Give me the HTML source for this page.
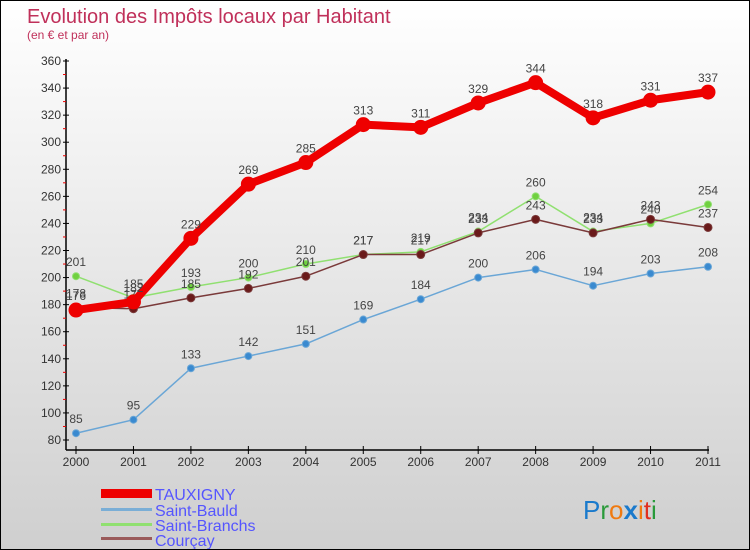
<!DOCTYPE html>
<html><head><meta charset="utf-8"><style>
body{margin:0}
#c{width:748px;height:548px;border:1px solid #000;background:linear-gradient(#fff,#cfcfcf);position:relative;font-family:"Liberation Sans",sans-serif;overflow:hidden}
</style></head><body>
<div id="c">
<svg id="s" width="748" height="548" style="position:absolute;left:0;top:0">
<text x="26" y="22" font-size="20" fill="#c0305a">Evolution des Impôts locaux par Habitant</text>
<text x="26" y="38" font-size="12" fill="#c0305a">(en € et par an)</text>
<g id="axes"></g><g id="series"></g>
<g>
<rect x="100" y="488" width="51" height="9" fill="#e00"/>
<text x="154" y="499" font-size="16" fill="#55f">TAUXIGNY</text>
<rect x="100" y="507" width="51" height="3" fill="#7aaed6"/>
<text x="154" y="515" font-size="16" fill="#55f">Saint-Bauld</text>
<rect x="100" y="522" width="51" height="3" fill="#90e070"/>
<text x="154" y="530" font-size="16" fill="#55f">Saint-Branchs</text>
<rect x="100" y="536" width="51" height="3" fill="#9a5a5a"/>
<text x="154" y="545" font-size="16" fill="#55f">Courçay</text>
</g>
<text x="582" y="518" font-size="26"><tspan fill="#1a7acc">P</tspan><tspan fill="#2a9a3a">r</tspan><tspan fill="#f07a10">o</tspan><tspan fill="#1a7acc" font-weight="bold">x</tspan><tspan fill="#f07a10">i</tspan><tspan fill="#e03020">t</tspan><tspan fill="#2a9a3a">i</tspan></text>
</svg>
</div>
<script>
const years=[2000,2001,2002,2003,2004,2005,2006,2007,2008,2009,2010,2011];
const tauxigny=[176,182,229,269,285,313,311,329,344,318,331,337];
const saintBauld=[85,95,133,142,151,169,184,200,206,194,203,208];
const saintBranchs=[201,185,193,200,210,217,219,234,260,234,240,254];
const courcay=[178,177,185,192,201,217,217,233,243,233,243,237];
const yTicks=[80,100,120,140,160,180,200,220,240,260,280,300,320,340,360];
const NS='http://www.w3.org/2000/svg';
const xs=i=>75+i*(632/11);
const ys=v=>60+(360-v)*(379/280);
function mk(t,a,p){const e=document.createElementNS(NS,t);for(const k in a)e.setAttribute(k,a[k]);p.appendChild(e);return e;}
const ax=document.getElementById('axes');
const yl=mk('line',{x1:65,y1:58,x2:65,y2:449,stroke:'#000','stroke-width':1.5},ax);


const xl=mk('line',{x1:65,y1:449,x2:708,y2:449,stroke:'#000','stroke-width':1.5},ax);


yTicks.forEach((v,i)=>{
 mk('line',{x1:62,x2:68,y1:ys(v),y2:ys(v),stroke:'#000'},ax);
 if(i<yTicks.length-1)mk('line',{x1:62,x2:65,y1:ys(v+10),y2:ys(v+10),stroke:'#e00'},ax);
 const t=mk('text',{x:60,y:ys(v)+4,'font-size':12,fill:'#333','text-anchor':'end'},ax);t.textContent=v;
 
 
});
years.forEach((y,i)=>{
 mk('line',{x1:xs(i),x2:xs(i),y1:445,y2:453,stroke:'#000'},ax);
 const t=mk('text',{x:xs(i),y:465,'font-size':12,fill:'#333','text-anchor':'middle'},ax);t.textContent=y;
 
 
});
const sg=document.getElementById('series');
function series(vals,color,w,r,name,dot){
 const g=mk('g',{},sg);
 
 
 mk('polyline',{points:vals.map((v,i)=>xs(i)+','+ys(v)).join(' '),fill:'none',stroke:color,'stroke-width':w,'stroke-linejoin':'round'},g);
 vals.forEach((v,i)=>{
  const c=mk('circle',{cx:xs(i),cy:ys(v),r:r,fill:dot,stroke:color,'stroke-width':1},g);
  
  
  const t=mk('text',{x:xs(i),y:ys(v)-10,'font-size':12,fill:'#444','text-anchor':'middle'},g);t.textContent=v;
  
  
 });
}
series(saintBauld,'#6aa6d6',1.5,3.5,'series-saint-bauld','#3a8ad0');
series(saintBranchs,'#90e070',1.5,3.5,'series-saint-branchs','#70d040');
series(courcay,'#7a3a3a',1.5,4,'series-courcay','#6a1a1a');
series(tauxigny,'#ee0000',8,7,'series-tauxigny','#ee0000');
</script>
</body></html>
